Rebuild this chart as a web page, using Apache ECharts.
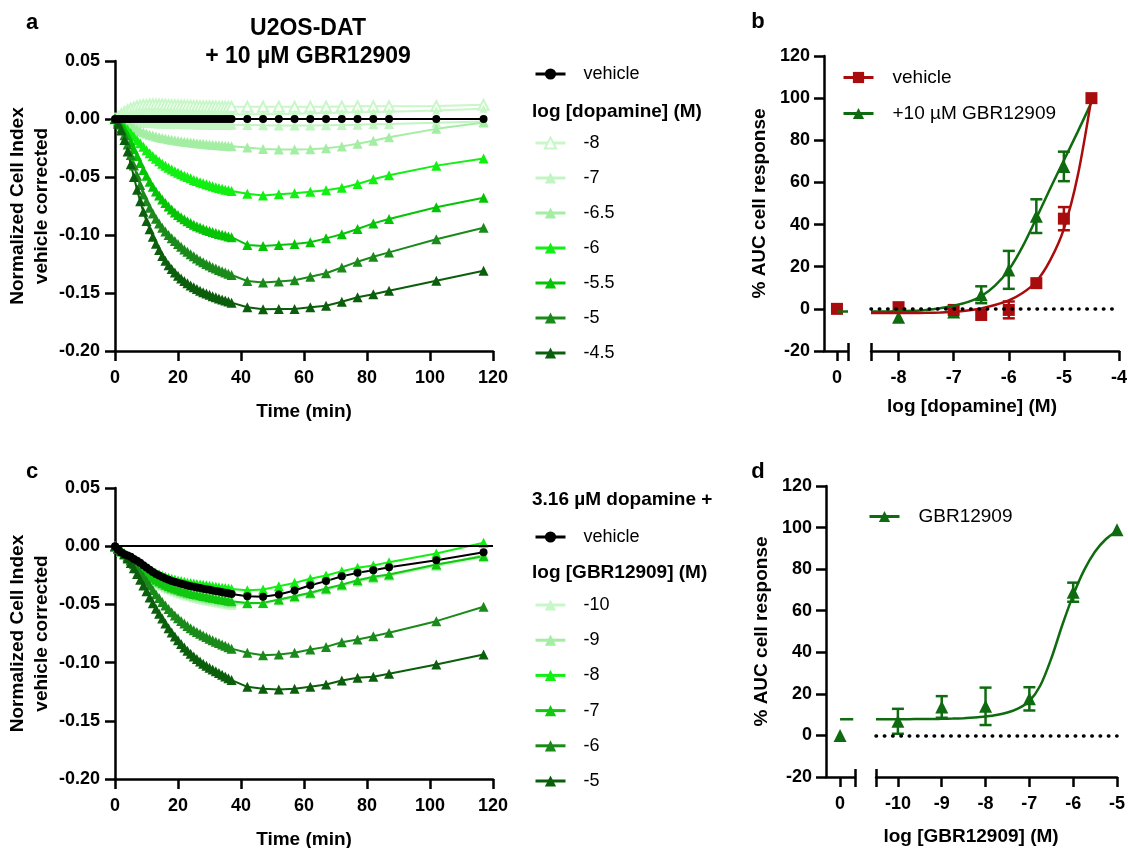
<!DOCTYPE html>
<html><head><meta charset="utf-8">
<script src="https://cdn.jsdelivr.net/npm/echarts@6/dist/echarts.min.js"></script>
<style>html,body{margin:0;padding:0;background:#fff}#c{width:1128px;height:848px}</style>
</head><body><div id="c"></div>
<script>
// ---------- DATA ----------
const TIME = [0,1,2,3,4,5,6,7,8,9,10,11,12,13,14,15,16,17,18,19,20,21,22,23,24,25,26,27,28,29,30,31,32,33,34,35,36,37,42,47,52,57,62,67,72,77,82,87,102,117];

// Panel a: U2OS-DAT + 10 µM GBR12909, log [dopamine]
const A_VEH = [0,0,0,0,0,0,0,0,0,0, 0,0,0,0,0,0,0,0,0,0, 0,0,0,0,0,0,0,0,0,0, 0,0,0,0,0,0,0,0, 0,0,0,0,0,0,0,0,0,0,0,0];
const A_M8 = [0,0.002,0.004,0.006,0.0075,0.009,0.010,0.011,0.0115,0.012,
 0.012,0.0125,0.0125,0.0125,0.0125,0.0125,0.0122,0.012,0.012,0.012,
 0.0118,0.0117,0.0116,0.0115,0.0114,0.0113,0.0112,0.0111,0.011,0.011,
 0.011,0.0108,0.0107,0.0106,0.0105,0.0105,0.0105,0.0105,
 0.0105,0.0105,0.0105,0.0105,0.0105,0.0106,0.0108,0.011,0.011,0.011,0.0112,0.0122];
const A_M8B = [0,0.001,0.002,0.003,0.004,0.0045,0.005,0.0055,0.006,0.006,
 0.0062,0.0062,0.0062,0.0062,0.006,0.006,0.006,0.0058,0.0058,0.0056,
 0.0055,0.0054,0.0053,0.0052,0.0051,0.005,0.0049,0.0048,0.0047,0.0046,
 0.0045,0.0044,0.0043,0.0042,0.0041,0.004,0.004,0.004,
 0.004,0.0042,0.0044,0.0046,0.0049,0.0052,0.0055,0.0058,0.006,0.0063,0.0074,0.0088];
const A_M7 = [0,-0.0005,-0.001,-0.0015,-0.002,-0.0023,-0.0026,-0.0029,-0.003,-0.0032,
 -0.0034,-0.0035,-0.0036,-0.0037,-0.0038,-0.0039,-0.004,-0.0041,-0.0042,-0.0043,
 -0.0044,-0.0044,-0.0045,-0.0045,-0.0046,-0.0046,-0.0047,-0.0047,-0.0048,-0.0048,
 -0.0049,-0.0049,-0.005,-0.005,-0.005,-0.005,-0.005,-0.005,
 -0.0052,-0.0054,-0.0055,-0.0055,-0.0055,-0.0053,-0.0051,-0.0049,-0.0046,-0.0043,-0.0033,-0.0022];
const A_M65 = [0,-0.001,-0.002,-0.003,-0.0045,-0.006,-0.0075,-0.009,-0.0103,-0.0115,
 -0.0125,-0.0135,-0.0143,-0.015,-0.0157,-0.0163,-0.0169,-0.0174,-0.0179,-0.0184,
 -0.0188,-0.0192,-0.0196,-0.0199,-0.0202,-0.0205,-0.0208,-0.0211,-0.0214,-0.0217,
 -0.022,-0.0222,-0.0224,-0.0226,-0.0228,-0.023,-0.0232,-0.0234,
 -0.0245,-0.0258,-0.0262,-0.0262,-0.026,-0.0252,-0.0236,-0.0214,-0.0188,-0.0158,-0.0085,-0.003];
const A_M6 = [0,-0.002,-0.004,-0.006,-0.009,-0.012,-0.015,-0.018,-0.021,-0.024,
 -0.027,-0.0295,-0.032,-0.0343,-0.0365,-0.0385,-0.0403,-0.042,-0.0436,-0.045,
 -0.0464,-0.0477,-0.0489,-0.05,-0.0511,-0.0525,-0.0535,-0.0545,-0.0554,-0.0563,
 -0.0572,-0.058,-0.0588,-0.0595,-0.0602,-0.0609,-0.0615,-0.062,
 -0.0645,-0.066,-0.0648,-0.064,-0.0628,-0.0615,-0.0592,-0.056,-0.052,-0.0485,-0.0402,-0.034];
const A_M55 = [0,-0.002,-0.005,-0.009,-0.014,-0.02,-0.026,-0.032,-0.038,-0.044,
 -0.049,-0.054,-0.0585,-0.0625,-0.066,-0.0695,-0.0725,-0.0755,-0.078,-0.0805,
 -0.0827,-0.0847,-0.0865,-0.0882,-0.0897,-0.0911,-0.0924,-0.0936,-0.0947,-0.0957,
 -0.0966,-0.0975,-0.0983,-0.0991,-0.0998,-0.1005,-0.1012,-0.1019,
 -0.1086,-0.1095,-0.1086,-0.1078,-0.1063,-0.1029,-0.0994,-0.0948,-0.09,-0.0862,-0.0761,-0.0678];
const A_M5 = [0,-0.003,-0.008,-0.014,-0.022,-0.031,-0.04,-0.049,-0.057,-0.065,
 -0.071,-0.0765,-0.0815,-0.086,-0.09,-0.0937,-0.097,-0.1,-0.1027,-0.1052,
 -0.1077,-0.1101,-0.1124,-0.1145,-0.1165,-0.1184,-0.1202,-0.1219,-0.1235,-0.125,
 -0.1264,-0.1277,-0.1289,-0.1301,-0.1312,-0.1323,-0.1334,-0.1345,
 -0.1397,-0.141,-0.140,-0.139,-0.136,-0.133,-0.128,-0.123,-0.1187,-0.115,-0.1037,-0.0937];
const A_M45 = [0,-0.004,-0.01,-0.018,-0.028,-0.039,-0.05,-0.061,-0.071,-0.08,
 -0.088,-0.095,-0.1015,-0.1075,-0.113,-0.118,-0.1222,-0.126,-0.1294,-0.1324,
 -0.1351,-0.1375,-0.1397,-0.1417,-0.1435,-0.1451,-0.1466,-0.148,-0.1493,-0.1505,
 -0.1516,-0.1527,-0.1537,-0.1547,-0.1556,-0.1565,-0.1574,-0.1583,
 -0.1623,-0.164,-0.1638,-0.1638,-0.1623,-0.161,-0.1575,-0.1537,-0.151,-0.148,-0.1394,-0.1308];

// Panel c: 3.16 µM dopamine + log [GBR12909]
const C_VEH = [0,-0.003,-0.0055,-0.007,-0.008,-0.009,-0.011,-0.0125,-0.0143,-0.0163,
 -0.0183,-0.0203,-0.0222,-0.0238,-0.0252,-0.0265,-0.0277,-0.0288,-0.0298,-0.0307,
 -0.0315,-0.0323,-0.033,-0.0337,-0.0343,-0.0349,-0.0355,-0.036,-0.0365,-0.037,
 -0.0375,-0.038,-0.0385,-0.039,-0.0395,-0.04,-0.0405,-0.041,
 -0.043,-0.0435,-0.0415,-0.038,-0.0335,-0.030,-0.0258,-0.0229,-0.0206,-0.018,-0.012,-0.0052];
const C_M10 = [0,-0.002,-0.0046,-0.0072,-0.0099,-0.0126,-0.0153,-0.0179,-0.0204,-0.0228,
 -0.025,-0.0271,-0.029,-0.0308,-0.0324,-0.034,-0.0354,-0.0367,-0.0379,-0.039,
 -0.04,-0.0409,-0.0418,-0.0426,-0.0433,-0.044,-0.0447,-0.0453,-0.0459,-0.0465,
 -0.047,-0.0475,-0.048,-0.0485,-0.049,-0.0495,-0.05,-0.0505,
 -0.0495,-0.049,-0.0466,-0.044,-0.041,-0.0375,-0.034,-0.0305,-0.0277,-0.0255,-0.0172,-0.0095];
const C_M9 = [0,-0.002,-0.0045,-0.007,-0.0097,-0.0124,-0.015,-0.0176,-0.02,-0.0223,
 -0.0244,-0.0264,-0.0283,-0.03,-0.0316,-0.0331,-0.0345,-0.0357,-0.0368,-0.0378,
 -0.0388,-0.0397,-0.0405,-0.0413,-0.042,-0.0427,-0.0433,-0.0439,-0.0445,-0.045,
 -0.0455,-0.046,-0.0465,-0.047,-0.0475,-0.048,-0.0485,-0.049,
 -0.049,-0.0485,-0.0462,-0.0435,-0.0405,-0.037,-0.0338,-0.0302,-0.0273,-0.025,-0.0165,-0.0075];
const C_M8 = [0,-0.002,-0.004,-0.006,-0.008,-0.0098,-0.0117,-0.0136,-0.0155,-0.0172,
 -0.0188,-0.0203,-0.0217,-0.023,-0.0242,-0.0253,-0.0263,-0.0272,-0.028,-0.0287,
 -0.0294,-0.03,-0.0306,-0.0311,-0.0316,-0.032,-0.0324,-0.0328,-0.0332,-0.0336,
 -0.034,-0.0344,-0.0348,-0.0352,-0.0356,-0.036,-0.0364,-0.0368,
 -0.0378,-0.0372,-0.0344,-0.0315,-0.028,-0.0252,-0.0215,-0.0186,-0.0166,-0.0137,-0.0063,0.003];
const C_M7 = [0,-0.002,-0.0045,-0.007,-0.0095,-0.012,-0.0145,-0.017,-0.0193,-0.0215,
 -0.0235,-0.0254,-0.0272,-0.0289,-0.0304,-0.0318,-0.0331,-0.0343,-0.0354,-0.0364,
 -0.0373,-0.0382,-0.039,-0.0397,-0.0404,-0.041,-0.0416,-0.0422,-0.0428,-0.0433,
 -0.0438,-0.0443,-0.0448,-0.0453,-0.0458,-0.0463,-0.0468,-0.0473,
 -0.0487,-0.0487,-0.0458,-0.043,-0.040,-0.0363,-0.033,-0.0292,-0.0263,-0.0243,-0.0157,-0.0086];
const C_M6 = [0,-0.002,-0.004,-0.0065,-0.009,-0.012,-0.0155,-0.019,-0.0226,-0.0263,
 -0.03,-0.0338,-0.0376,-0.0412,-0.0446,-0.048,-0.051,-0.054,-0.0568,-0.0595,
 -0.062,-0.0643,-0.0665,-0.0685,-0.0704,-0.0722,-0.0738,-0.0753,-0.0767,-0.078,
 -0.0795,-0.0808,-0.082,-0.0832,-0.0844,-0.0856,-0.0868,-0.088,
 -0.0916,-0.0936,-0.093,-0.0916,-0.0888,-0.0865,-0.0825,-0.0802,-0.0773,-0.0744,-0.0644,-0.052];
const C_M5 = [0,-0.002,-0.004,-0.007,-0.0105,-0.0145,-0.019,-0.0238,-0.0288,-0.0338,
 -0.0388,-0.044,-0.049,-0.0538,-0.0581,-0.0622,-0.0665,-0.0705,-0.0742,-0.0776,
 -0.0808,-0.084,-0.087,-0.0898,-0.0924,-0.0948,-0.097,-0.099,-0.1009,-0.1027,
 -0.1045,-0.106,-0.1075,-0.109,-0.1105,-0.112,-0.1135,-0.115,
 -0.1208,-0.1225,-0.1231,-0.1225,-0.1208,-0.1188,-0.1154,-0.1131,-0.1122,-0.1096,-0.1016,-0.093];

// Panel b: % AUC vs log [dopamine]
const B_X = [-8,-7,-6.5,-6,-5.5,-5,-4.5];
const B_VEH = [0.8,-0.5,-2.9,-0.5,12.2,42.8,100];
const B_VEH_ERR = [0,0,0,4,0,5.5,0];
const B_GX = [-8,-7,-6.5,-6,-5.5,-5];
const B_GBR = [-4,-1.5,6.7,18.5,44,67.6];
const B_GBR_ERR = [0,0,4,9,8,7];
const B_ZERO_X = [0];
const B_VEH_ZERO = [0];
const B_FIT_X = [-8.5,-8.25,-8,-7.75,-7.5,-7.25,-7,-6.75,-6.5,-6.25,-6,-5.75,-5.5,-5.25,-5,-4.75,-4.5];
const B_FIT_VEH = [-2,-2,-2,-2,-1.9,-1.7,-1.4,-0.8,0.2,1.8,4,7.5,13,23,38,63,100];
const B_FIT_GBR = [-1.2,-1.2,-1.1,-0.9,-0.5,0.3,1.5,3.2,6,11,18.5,29.5,43,57,70.5,84,98];
const B_DASH_X = [0,0.2];
const B_DASH_GBR = [-1.2,-1.2];

// Panel d: % AUC vs log [GBR12909]
const D_X = [-10,-9,-8,-7,-6,-5];
const D_Y = [6.8,13.7,14,17.6,68.9,99];
const D_ERR = [6,5.2,9,5.6,4.6,0];
const D_ZERO_X = [0];
const D_ZERO_Y = [0];
const D_FIT_X = [-10.5,-10.25,-10,-9.75,-9.5,-9.25,-9,-8.75,-8.5,-8.25,-8,-7.75,-7.5,-7.25,-7,-6.75,-6.5,-6.25,-6,-5.75,-5.5,-5.25,-5];
const D_FIT = [7.8,7.8,7.8,7.8,7.9,7.9,8,8.1,8.3,8.6,9.1,9.8,11,13,16.5,24,37,53,67.5,79.5,88.5,94.5,98.5];
const D_DASH_X = [0,0.3];
const D_DASH = [7.8,7.8];

// Tick labels
const AC_X_TICKS = [0,20,40,60,80,100,120];
const B_X_TICKS = [-8,-7,-6,-5,-4];
const D_X_TICKS = [-10,-9,-8,-7,-6,-5];

// ---------- STYLE ----------
const FONT = "'Liberation Sans', Arial, Helvetica, sans-serif";
const COL = {a8:'#c8f7c8', a7:'#c2f5c2', a65:'#a3eea3', a6:'#12ef12', a55:'#05c405', a5:'#1a8a1a', a45:'#0b5e0b',
  c10:'#c8f7c8', c9:'#a3eea3', c8:'#12ef12', c7:'#10c810', c6:'#1a8a1a', c5:'#0b5e0b', red:'#a80c0c', green:'#0f6b0f'};
const LABELS = {a_veh:'vehicle', a_m8:'-8', a_m7:'-7', a_m65:'-6.5', a_m6:'-6', a_m55:'-5.5', a_m5:'-5', a_m45:'-4.5',
  c_veh:'vehicle', c_m10:'-10', c_m9:'-9', c_m8:'-8', c_m7:'-7', c_m6:'-6', c_m5:'-5',
  b_veh:'vehicle', b_gbr:'+10 µM GBR12909', d_gbr:'GBR12909'};

const pairs = (xs, ys) => xs.map((x, i) => [x, ys[i]]);

function tc(name, gi, vals, color, symbol, size) {
  return {type:'line', name, xAxisIndex:gi, yAxisIndex:gi, data:pairs(TIME, vals),
    symbol, symbolSize:size, showSymbol:true, showAllSymbol:true,
    lineStyle:{color, width:2}, itemStyle:{color}, emphasis:{disabled:true}, animation:false};
}
function errSeries(name, gi, xs, ys, es, color) {
  return {type:'custom', name, xAxisIndex:gi, yAxisIndex:gi, silent:true, animation:false,
    data: xs.map((x, i) => [x, ys[i], es[i]]).filter(d => d[2] > 0),
    encode:{x:0, y:1},
    renderItem(params, api) {
      const x = api.value(0), y = api.value(1), e = api.value(2);
      const hi = api.coord([x, y + e]), lo = api.coord([x, y - e]);
      const w = 6, st = {stroke:color, lineWidth:2.5};
      return {type:'group', children:[
        {type:'line', shape:{x1:hi[0], y1:hi[1], x2:lo[0], y2:lo[1]}, style:st},
        {type:'line', shape:{x1:hi[0]-w, y1:hi[1], x2:hi[0]+w, y2:hi[1]}, style:st},
        {type:'line', shape:{x1:lo[0]-w, y1:lo[1], x2:lo[0]+w, y2:lo[1]}, style:st}]};
    }};
}
const dotted = {silent:true, symbol:['none','none'], label:{show:false}, animation:false,
  lineStyle:{color:'#000', type:[0.5,7.8], width:3.5, cap:'round'}, emphasis:{disabled:true}, data:[{yAxis:0}]};

const AX_LINE = {onZero:false, lineStyle:{color:'#000', width:2.5}};
const AX_TICK = {show:true, length:10, lineStyle:{color:'#000', width:2.5}};
const AX_LABEL = {color:'#000', fontSize:18, fontWeight:'bold', fontFamily:FONT};
const NAME_STYLE = {color:'#000', fontSize:19, fontWeight:'bold', fontFamily:FONT, lineHeight:24};

function xMain(gi, min, max, ticks, labels, extra) {
  return Object.assign({type:'value', gridIndex:gi, min, max, position:'bottom',
    axisLine:AX_LINE, axisTick:Object.assign({}, AX_TICK, {customValues:ticks}),
    axisLabel:Object.assign({}, AX_LABEL, {margin:18, customValues:labels}), splitLine:{show:false}}, extra || {});
}
function xCap(gi, min, max, cap) {
  return {type:'value', gridIndex:gi, min, max, position:'bottom', axisLine:{show:false, onZero:false},
    axisTick:{show:true, inside:true, length:8, lineStyle:{color:'#000', width:2.5}, customValues:cap},
    axisLabel:{show:false}, splitLine:{show:false}};
}
function yAC(gi) {
  return {type:'value', gridIndex:gi, min:-0.2, max:0.05, interval:0.05, axisLine:AX_LINE, axisTick:AX_TICK,
    axisLabel:Object.assign({}, AX_LABEL, {margin:15, formatter:v => Math.abs(v) < 1e-9 ? '0.00' : v.toFixed(2)}),
    splitLine:{show:false}, name:'Normalized Cell Index\nvehicle corrected', nameLocation:'middle', nameGap:61, nameTextStyle:NAME_STYLE};
}
function yBD(gi, show) {
  return {type:'value', gridIndex:gi, min:-20, max:120, interval:20, show, axisLine:AX_LINE, axisTick:AX_TICK,
    axisLabel:Object.assign({}, AX_LABEL, {margin:14}), splitLine:{show:false},
    name: show ? '% AUC cell response' : '', nameLocation:'middle', nameGap:52, nameTextStyle:NAME_STYLE};
}
function legend(names, left, top, gap, fs, pad) {
  return {data:names, left, top, orient:'vertical', itemWidth:30, itemHeight:14, itemGap:gap, padding:0,
    formatter:n => LABELS[n], selectedMode:false, lineStyle:{width:3},
    textStyle:{color:'#000', fontSize:fs || 18, fontFamily:FONT, lineHeight:18, padding:[0,0,0,pad || 13]}};
}
function txt(text, x, y, size, bold, align) {
  return {type:'text', x, y, silent:true, style:{text, fill:'#000', fontSize:size, fontWeight:bold ? 'bold' : 'normal',
    fontFamily:FONT, align:align || 'center', verticalAlign:'middle', textAlign:align || 'center', textVerticalAlign:'middle'}};
}

const option = {
  animation:false,
  textStyle:{fontFamily:FONT},
  grid:[
    {left:115, top:61, width:378, height:290, outerBoundsMode:'none'},
    {left:115, top:488, width:378, height:291, outerBoundsMode:'none'},
    {left:824, top:56, width:24, height:295, outerBoundsMode:'none'},
    {left:871, top:56, width:248, height:295, outerBoundsMode:'none'},
    {left:826, top:486, width:29, height:291, outerBoundsMode:'none'},
    {left:876, top:486, width:241, height:291, outerBoundsMode:'none'}
  ],
  xAxis:[
    xMain(0, 0, 120, AC_X_TICKS, AC_X_TICKS, {name:'Time (min)', nameLocation:'middle', nameGap:49, nameTextStyle:NAME_STYLE}),
    xMain(1, 0, 120, AC_X_TICKS, AC_X_TICKS, {name:'Time (min)', nameLocation:'middle', nameGap:49, nameTextStyle:NAME_STYLE}),
    xMain(2, -0.235, 0.2, [0, 0.2], [0]),
    xMain(3, -8.5, -4, [-8.5].concat(B_X_TICKS), B_X_TICKS),
    xMain(4, -0.32, 0.34, [0, 0.34], [0]),
    xMain(5, -10.5, -5, [-10.5].concat(D_X_TICKS), D_X_TICKS),
    xCap(2, -0.235, 0.2, [0.2]),
    xCap(3, -8.5, -4, [-8.5]),
    xCap(4, -0.32, 0.34, [0.34]),
    xCap(5, -10.5, -5, [-10.5])
  ],
  yAxis:[yAC(0), yAC(1), yBD(2, true), yBD(3, false), yBD(4, true), yBD(5, false)],
  legend:[
    legend(['a_veh'], 534, 65, 17),
    legend(['a_m8','a_m7','a_m65','a_m6','a_m55','a_m5','a_m45'], 534, 134, 17),
    legend(['c_veh'], 534, 528, 17),
    legend(['c_m10','c_m9','c_m8','c_m7','c_m6','c_m5'], 534, 596, 17.2),
    legend(['b_veh','b_gbr'], 842, 68, 17, 19, 14),
    legend(['d_gbr'], 868, 507, 17, 19, 14)
  ],
  graphic:[
    txt('a', 32, 23, 22, true), txt('b', 758, 22, 22, true), txt('c', 32, 472, 22, true), txt('d', 758, 472, 22, true),
    txt('U2OS-DAT', 308, 29, 23, true), txt('+ 10 µM GBR12909', 308, 57, 23, true),
    txt('log [dopamine] (M)', 532, 112, 19, true, 'left'),
    txt('3.16 µM dopamine +', 532, 500, 19, true, 'left'),
    txt('log [GBR12909] (M)', 532, 573, 19, true, 'left'),
    txt('log [dopamine] (M)', 972, 407, 19, true),
    txt('log [GBR12909] (M)', 971, 837, 19, true)
  ],
  series:[
    // panel a
    Object.assign(tc('a_m8', 0, A_M8, COL.a8, 'emptyTriangle', 10), {itemStyle:{color:COL.a8, borderWidth:1.5}}),
    tc('a_m8', 0, A_M8B, COL.a8, 'triangle', 8),
    tc('a_m7', 0, A_M7, COL.a7, 'triangle', 10),
    tc('a_m65', 0, A_M65, COL.a65, 'triangle', 10),
    tc('a_m6', 0, A_M6, COL.a6, 'triangle', 10),
    tc('a_m55', 0, A_M55, COL.a55, 'triangle', 10),
    tc('a_m5', 0, A_M5, COL.a5, 'triangle', 10),
    tc('a_m45', 0, A_M45, COL.a45, 'triangle', 10),
    tc('a_veh', 0, A_VEH, '#000', 'circle', 8),
    // panel c
    tc('c_m10', 1, C_M10, COL.c10, 'triangle', 10),
    tc('c_m9', 1, C_M9, COL.c9, 'triangle', 10),
    tc('c_m8', 1, C_M8, COL.c8, 'triangle', 10),
    tc('c_m7', 1, C_M7, COL.c7, 'triangle', 10),
    tc('c_m6', 1, C_M6, COL.c6, 'triangle', 10),
    tc('c_m5', 1, C_M5, COL.c5, 'triangle', 10),
    Object.assign(tc('c_veh', 1, C_VEH, '#000', 'circle', 8),
      {markLine:{silent:true, symbol:['none','none'], label:{show:false}, animation:false,
        lineStyle:{color:'#000', type:'solid', width:2}, emphasis:{disabled:true}, data:[{yAxis:0}]}}),
    // panel b
    {type:'line', name:'b_gbr', xAxisIndex:3, yAxisIndex:3, data:pairs(B_FIT_X, B_FIT_GBR), symbol:'triangle', showSymbol:false,
      smooth:0.3, lineStyle:{color:COL.green, width:2.5}, itemStyle:{color:COL.green}, markLine:dotted, animation:false},
    {type:'line', name:'b_veh', xAxisIndex:3, yAxisIndex:3, data:pairs(B_FIT_X, B_FIT_VEH), symbol:'rect', showSymbol:false,
      smooth:0.3, lineStyle:{color:COL.red, width:2.5}, itemStyle:{color:COL.red}, animation:false},
    errSeries('b_gbr_err', 3, B_GX, B_GBR, B_GBR_ERR, COL.green),
    errSeries('b_veh_err', 3, B_X, B_VEH, B_VEH_ERR, COL.red),
    {type:'scatter', name:'b_gbr_pts', xAxisIndex:3, yAxisIndex:3, data:pairs(B_GX, B_GBR), symbol:'triangle', symbolSize:13,
      itemStyle:{color:COL.green, opacity:1}, animation:false},
    {type:'scatter', name:'b_veh_pts', xAxisIndex:3, yAxisIndex:3, data:pairs(B_X, B_VEH), symbol:'rect', symbolSize:12,
      itemStyle:{color:COL.red, opacity:1}, animation:false},
    {type:'line', name:'b_gbr_dash', xAxisIndex:2, yAxisIndex:2, data:pairs(B_DASH_X, B_DASH_GBR), showSymbol:false, symbol:'none',
      lineStyle:{color:COL.green, width:2.5}, animation:false},
    {type:'scatter', name:'b_veh_zero', xAxisIndex:2, yAxisIndex:2, data:pairs(B_ZERO_X, B_VEH_ZERO), symbol:'rect', symbolSize:12,
      itemStyle:{color:COL.red, opacity:1}, animation:false},
    // panel d
    {type:'line', name:'d_gbr', xAxisIndex:5, yAxisIndex:5, data:pairs(D_FIT_X, D_FIT), symbol:'triangle', showSymbol:false,
      smooth:0.3, lineStyle:{color:COL.green, width:2.5}, itemStyle:{color:COL.green}, markLine:dotted, animation:false},
    errSeries('d_err', 5, D_X, D_Y, D_ERR, COL.green),
    {type:'scatter', name:'d_pts', xAxisIndex:5, yAxisIndex:5, data:pairs(D_X, D_Y), symbol:'triangle', symbolSize:13,
      itemStyle:{color:COL.green, opacity:1}, animation:false},
    {type:'line', name:'d_dash', xAxisIndex:4, yAxisIndex:4, data:pairs(D_DASH_X, D_DASH), showSymbol:false, symbol:'none',
      lineStyle:{color:COL.green, width:2.5}, animation:false},
    {type:'scatter', name:'d_zero', xAxisIndex:4, yAxisIndex:4, data:pairs(D_ZERO_X, D_ZERO_Y), symbol:'triangle', symbolSize:13,
      itemStyle:{color:COL.green, opacity:1}, animation:false}
  ]
};
const chart = echarts.init(document.getElementById('c'));
chart.setOption(option);
</script></body></html>
